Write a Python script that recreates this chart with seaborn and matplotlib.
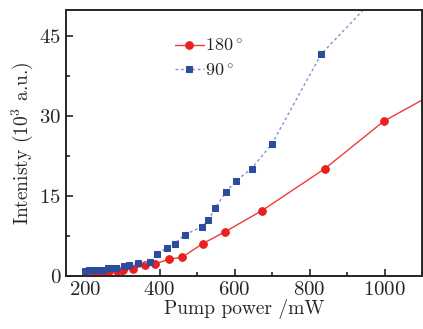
import pandas as pd
import matplotlib.pyplot as plt
import seaborn as sns
from matplotlib.ticker import MultipleLocator

# Data
x_180 = [221, 232, 248, 264, 285, 303, 330, 360, 388, 426, 459, 515, 574, 673, 841, 998, 1150]
y_180 = [0.6, 0.7, 0.75, 0.9, 1.0, 1.1, 1.4, 2.0, 2.3, 3.2, 3.5, 6.1, 8.3, 12.3, 20.2, 29.1, 35.0]

x_90 = [200, 212, 224, 236, 248, 262, 272, 283, 304, 319, 342, 374, 392, 419, 440,
        467, 512, 530, 548, 576, 604, 645, 699, 831, 1000]
y_90 = [1.0, 1.05, 1.1, 1.1, 1.15, 1.55, 1.5, 1.5, 1.8, 2.0, 2.4, 2.6, 4.1, 5.3, 6.1,
        7.8, 9.2, 10.5, 12.7, 15.8, 17.9, 20.2, 24.8, 41.7, 54.2]

df180 = pd.DataFrame({"power": x_180, "intensity": y_180})
df90 = pd.DataFrame({"power": x_90, "intensity": y_90})

sns.set_style("ticks")
plt.rcParams["font.family"] = ["cmr10", "DejaVu Serif"]
plt.rcParams["mathtext.fontset"] = "cm"
plt.rcParams["axes.formatter.use_mathtext"] = True

fig = plt.figure(figsize=(4.23, 3.29), dpi=100)
ax = fig.add_axes([0.156, 0.161, 0.842, 0.809])

sns.lineplot(data=df180, x="power", y="intensity", sort=False, ax=ax,
             color="#f03a3a", linewidth=1.0, marker="o", markersize=5.5,
             markerfacecolor="#e82020", markeredgecolor="#e82020",
             label=r"180$^\circ$")
sns.lineplot(data=df90, x="power", y="intensity", sort=False, ax=ax,
             color="#8c8cd8", linewidth=1.0, linestyle=(0, (2, 2)), marker="s",
             markersize=4.5, markerfacecolor="#2d4c9e", markeredgecolor="#2d4c9e",
             label=r"90$^\circ$")

ax.set_xlim(150, 1100)
ax.set_ylim(0, 50)
ax.xaxis.set_major_locator(MultipleLocator(200))
ax.xaxis.set_minor_locator(MultipleLocator(100))
ax.yaxis.set_major_locator(MultipleLocator(15))
ax.yaxis.set_minor_locator(MultipleLocator(7.5))
ax.tick_params(which="both", direction="in", labelsize=15, width=1.2)
ax.tick_params(which="major", length=5)
ax.tick_params(which="minor", length=3)
for s in ax.spines.values():
    s.set_linewidth(1.4)

ax.set_xlabel("Pump power /mW", fontsize=14, labelpad=0)
ax.set_ylabel(r"Intenisty (10$^3$ a.u.)", fontsize=14, labelpad=3)

ax.legend(loc="upper left", bbox_to_anchor=(0.28, 0.93), frameon=False,
          fontsize=13, handlelength=1.6, handletextpad=0.1, labelspacing=0.45,
          borderpad=0)

fig.savefig("out.png", dpi=100)
